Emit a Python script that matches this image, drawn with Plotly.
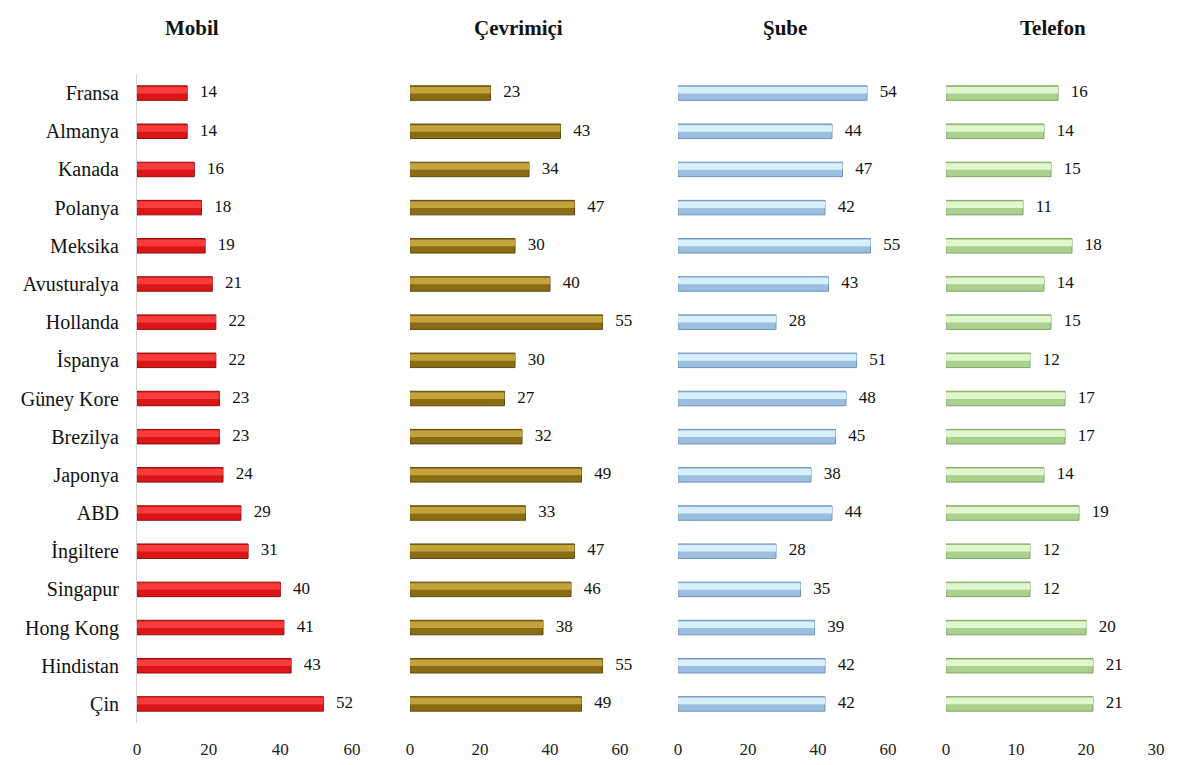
import plotly.graph_objects as go

countries = ["Fransa", "Almanya", "Kanada", "Polanya", "Meksika", "Avusturalya", "Hollanda",
             "İspanya", "Güney Kore", "Brezilya", "Japonya", "ABD", "İngiltere", "Singapur",
             "Hong Kong", "Hindistan", "Çin"]
mobil = [14, 14, 16, 18, 19, 21, 22, 22, 23, 23, 24, 29, 31, 40, 41, 43, 52]
cevrimici = [23, 43, 34, 47, 30, 40, 55, 30, 27, 32, 49, 33, 47, 46, 38, 55, 49]
sube = [54, 44, 47, 42, 55, 43, 28, 51, 48, 45, 38, 44, 28, 35, 39, 42, 42]
telefon = [16, 14, 15, 11, 18, 14, 15, 12, 17, 17, 14, 19, 12, 12, 20, 21, 21]

titles = ["Mobil", "Çevrimiçi", "Şube", "Telefon"]
series = [mobil, cevrimici, sube, telefon]
x_ranges = [[0, 60], [0, 60], [0, 60], [0, 30]]
x_ticks = [[0, 20, 40, 60], [0, 20, 40, 60], [0, 20, 40, 60], [0, 10, 20, 30]]

# (lower body, upper highlight, border)
palettes = [
    ("#dc1616", "#f83c3c", "#920c0c"),
    ("#8a6c14", "#c4a23c", "#5e4a0c"),
    ("#9cbfe0", "#d8f0fc", "#6e94bb"),
    ("#aad18d", "#e0f6cc", "#7ea566"),
]

W, H = 1180, 765
OFF = 8  # page offset of the plot div
px_domains = [(137, 352), (410, 620), (678, 888), (946, 1156)]
title_x = [192, 518, 785, 1053]
y_top_px, y_bot_px = 74, 723

FONT = "Liberation Serif, Times New Roman, serif"
n = len(countries)

fig = go.Figure()
for i, (vals, pal) in enumerate(zip(series, palettes)):
    sfx = "" if i == 0 else str(i + 1)
    xa, ya = "x" + sfx, "y" + sfx
    lower, upper, border = pal
    fig.add_trace(go.Bar(
        x=vals, y=countries, orientation="h", xaxis=xa, yaxis=ya,
        width=0.38, marker=dict(color=lower, line=dict(color=border, width=1)),
        hoverinfo="skip", showlegend=False))
    fig.add_trace(go.Bar(
        x=vals, y=countries, orientation="h", xaxis=xa, yaxis=ya,
        width=0.17, offset=-0.16, marker=dict(color=upper, line=dict(width=0)),
        hoverinfo="skip", showlegend=False))
    fig.add_trace(go.Scatter(
        x=vals, y=countries, xaxis=xa, yaxis=ya, mode="text",
        text=["   " + str(v) for v in vals], textposition="middle right",
        textfont=dict(family=FONT, size=17, color="#111"),
        cliponaxis=False, hoverinfo="skip", showlegend=False))

    d0, d1 = px_domains[i]
    fig.layout["xaxis" + sfx] = dict(
        domain=[(d0 - OFF) / W, (d1 - OFF) / W], range=x_ranges[i], anchor=ya,
        automargin=False, tickvals=x_ticks[i], showgrid=False, zeroline=False,
        showline=False, ticks="", ticklabelstandoff=14,
        tickfont=dict(family=FONT, size=17, color="#222"), fixedrange=True)
    ydict = dict(
        domain=[1 - (y_bot_px - OFF) / H, 1 - (y_top_px - OFF) / H], anchor=xa,
        automargin=False, categoryorder="array", categoryarray=countries,
        range=[n - 0.5, -0.5], showgrid=False, zeroline=False, ticks="",
        fixedrange=True)
    if i == 0:
        ydict.update(showline=True, linecolor="#d4d4d4", linewidth=1,
                     showticklabels=True, ticklabelstandoff=13,
                     tickfont=dict(family=FONT, size=20, color="#111"))
    else:
        ydict.update(showline=False, showticklabels=False)
    fig.layout["yaxis" + sfx] = ydict

    fig.add_annotation(x=(title_x[i] - OFF) / W, y=1 - (28 - OFF) / H,
                       xref="paper", yref="paper",
                       text="<b>" + titles[i] + "</b>", showarrow=False,
                       font=dict(family=FONT, size=21, color="#111"),
                       xanchor="center", yanchor="middle")

fig.update_layout(
    width=W, height=H, barmode="overlay",
    margin=dict(l=0, r=0, t=0, b=0, autoexpand=False),
    paper_bgcolor="white", plot_bgcolor="white",
)

fig.write_html("out.html")
